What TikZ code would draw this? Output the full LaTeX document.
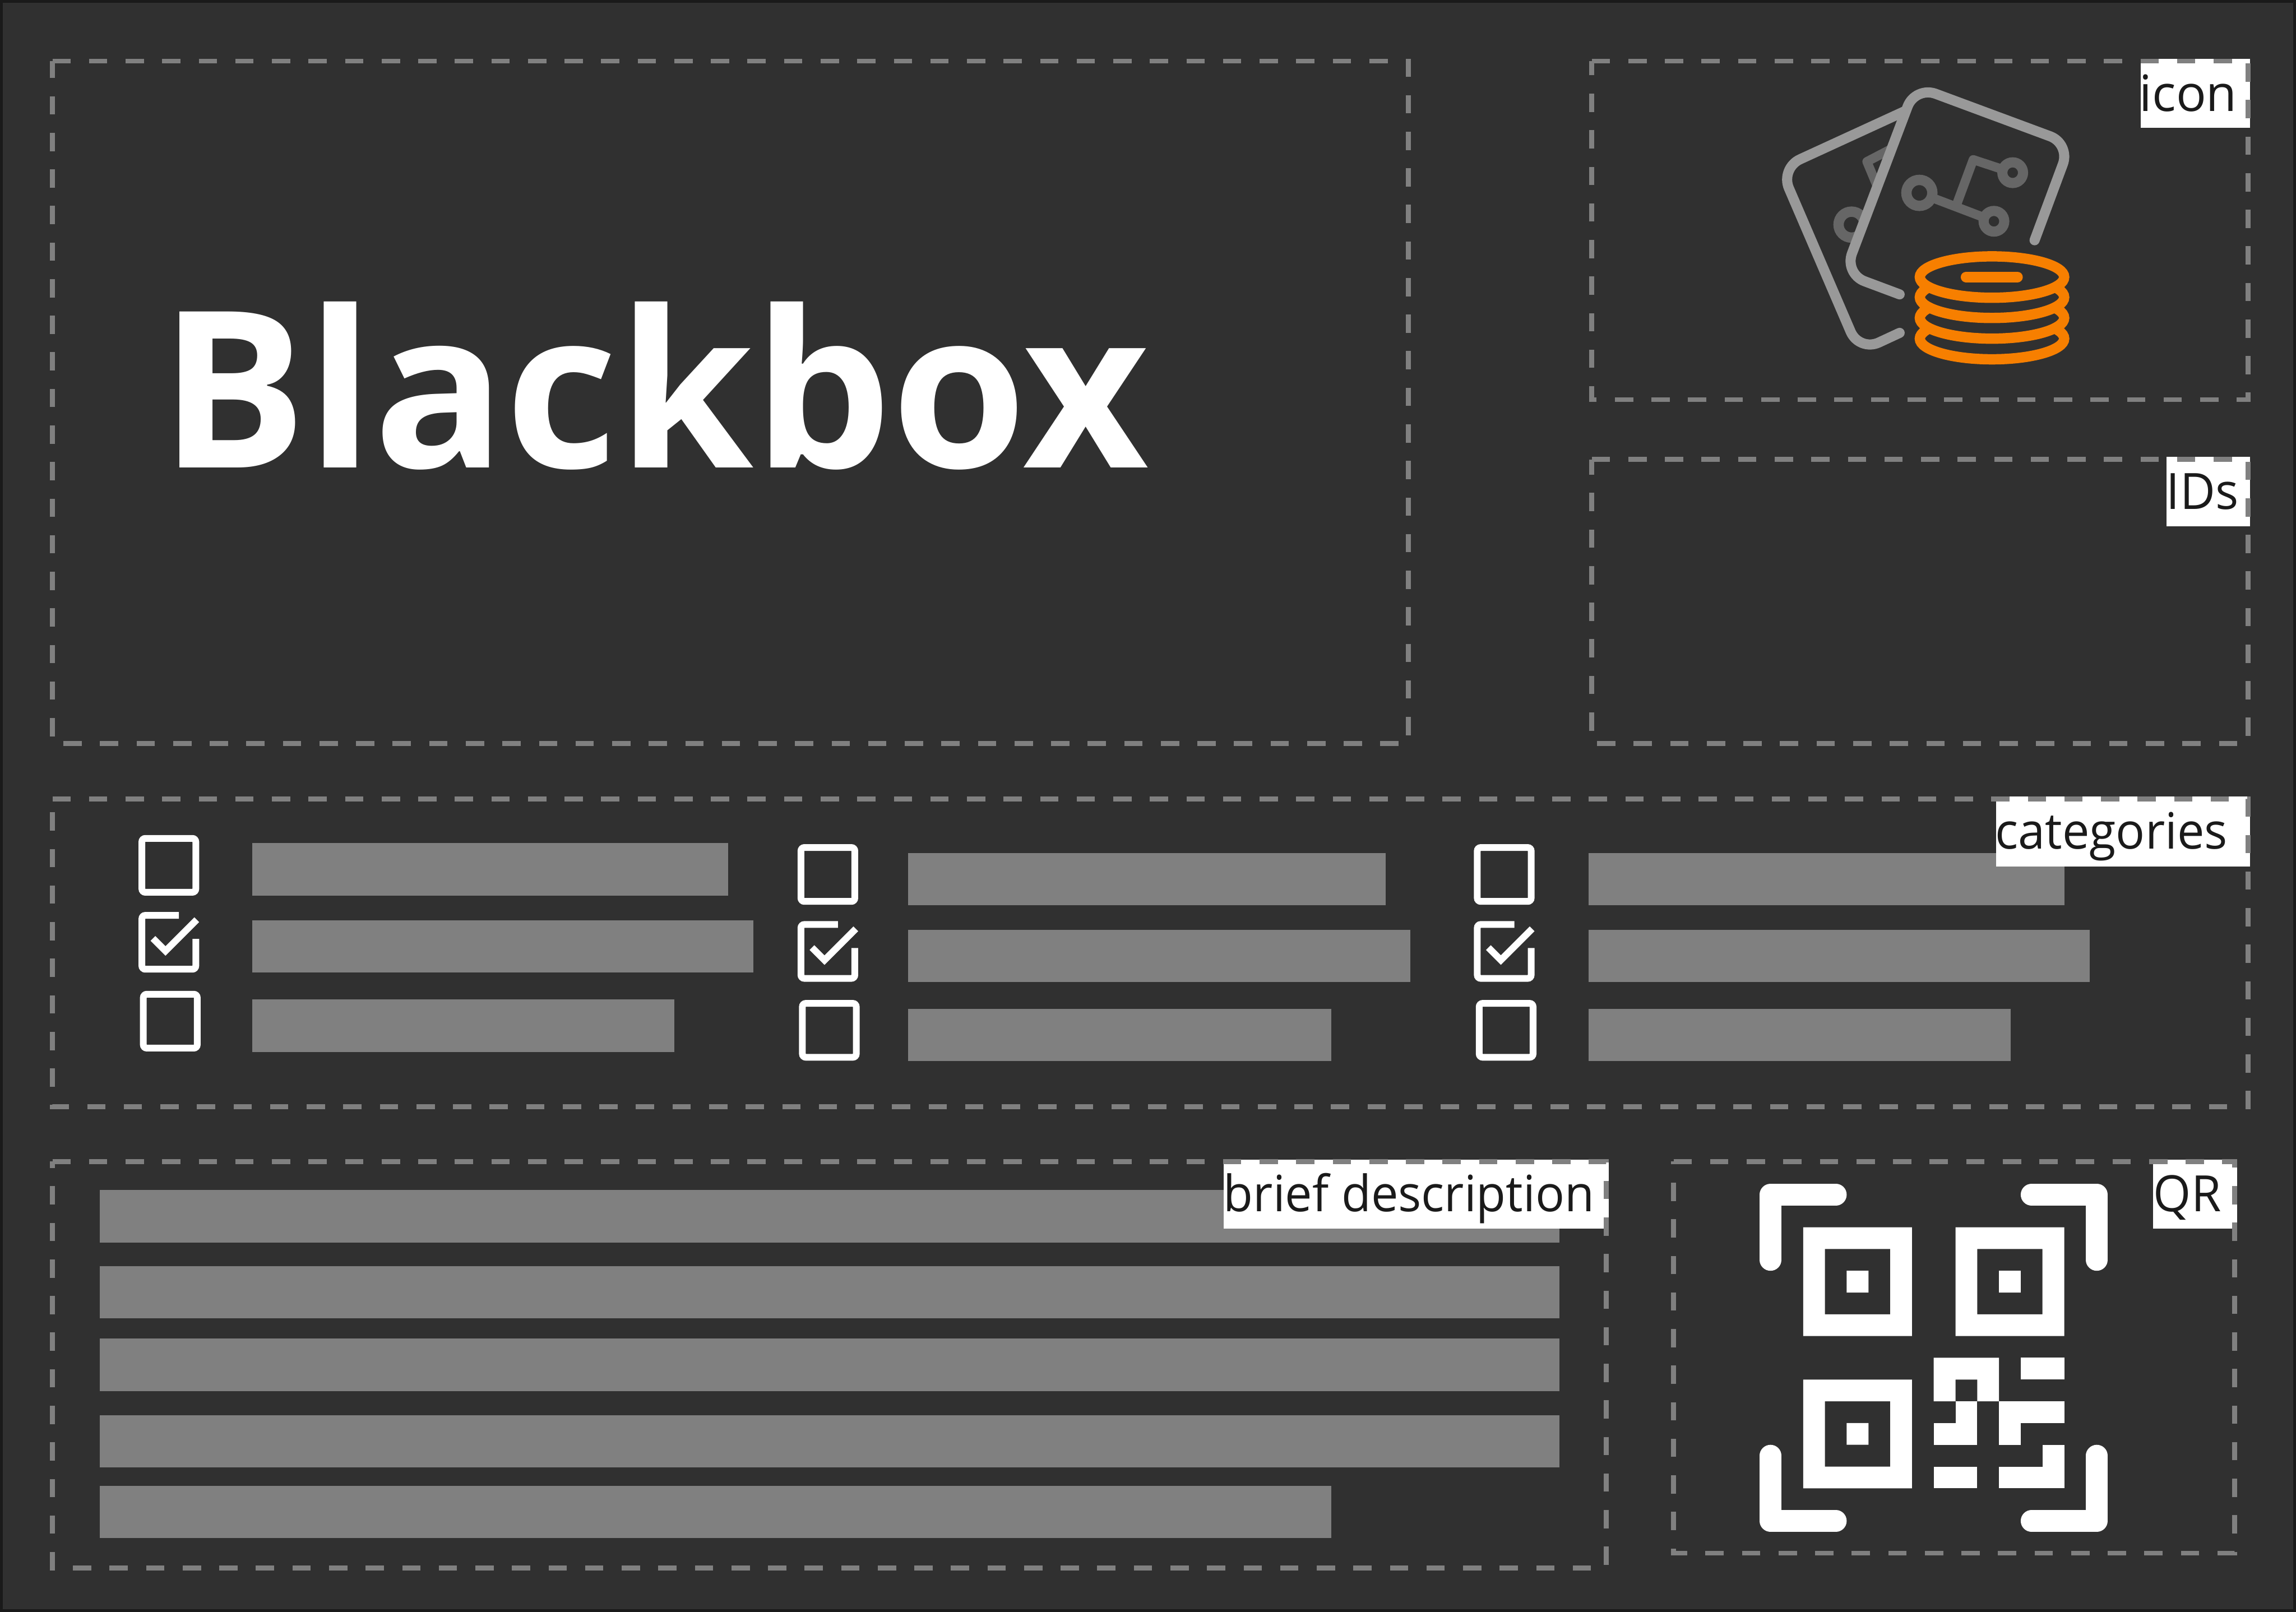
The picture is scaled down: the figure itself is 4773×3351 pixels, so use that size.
\documentclass[tikz,border=0pt]{standalone}
\usepackage{fontspec}
\setmainfont{Open Sans}
\newfontfamily\tagfont[FakeStretch=0.967]{Open Sans}
\definecolor{bgc}{HTML}{303030}
\definecolor{edgec}{HTML}{1A1A1A}
\definecolor{dashc}{HTML}{808080}
\definecolor{cardc}{HTML}{999999}
\definecolor{circc}{HTML}{666666}
\definecolor{coinc}{HTML}{F77F00}
\tikzset{
  zone/.style={draw=dashc,line width=0.1cm,dash pattern=on 0.38cm off 0.38cm},
  bar/.style={fill=dashc},
  tagbox/.style={fill=white},
  tag/.style={anchor=base west,inner sep=0pt,text=edgec,font=\tagfont\fontsize{29.6pt}{32pt}\selectfont},
  tagwide/.style={anchor=base west,inner sep=0pt,text=edgec,font=\fontsize{29.6pt}{32pt}\selectfont},
  tick/.style={draw=white,line width=0.14cm,rounded corners=0.07cm},
  cardline/.style={draw=cardc,line width=0.21cm,line cap=round,line join=round,rounded corners=0.45cm},
  circline/.style={draw=circc,line width=0.19cm,line join=round,line cap=round},
  ringbig/.style={draw=circc,line width=0.215cm},
  coin/.style={draw=coinc,fill=bgc,line width=0.215cm},
  qrmod/.style={fill=white},
  qrcorner/.style={draw=white,line width=0.452cm,line cap=round,line join=round},
}
\newcommand{\emptybox}[2]{\draw[tick] (#1+7,#2+7) -- (#1+119,#2+7) -- (#1+119,#2+119) -- (#1+7,#2+119) -- cycle;}
\newcommand{\fullbox}[2]{%
  \draw[tick] (#1+84,#2+7) -- (#1+7,#2+7) -- (#1+7,#2+119) -- (#1+119,#2+119) -- (#1+119,#2+56);
  \draw[draw=white,line width=0.14cm] (#1+30,#2+55) -- (#1+56,#2+81) -- (#1+121,#2+16);}
\begin{document}
\begin{tikzpicture}[x=0.01cm,y=-0.01cm]
\useasboundingbox (0,0) rectangle (4773,3351);
\fill[edgec] (0,0) rectangle (4773,3351);
\fill[bgc] (6,6) rectangle (4767,3345);
% bars
\foreach \a/\b/\c/\d in {
 524/1753/1514/1862, 524/1913/1566/2022, 524/2078/1402/2187,
 1888/1773/2880/1882, 1888/1933/2932/2042, 1888/2097/2767/2206,
 3302/1773/4292/1882, 3302/1933/4344/2042, 3302/2097/4180/2206,
 207/2474/3242/2583, 207/2632/3242/2741, 207/2783/3242/2892,
 207/2942/3242/3051, 207/3089/2767/3198}
  {\fill[bar] (\a,\b) rectangle (\c,\d);}
% label backgrounds
\fill[tagbox] (4450,122) rectangle (4677,266);
\fill[tagbox] (4504,950) rectangle (4677,1094);
\fill[tagbox] (4149,1656) rectangle (4677,1801);
\fill[tagbox] (2544,2411) rectangle (3344,2554);
\fill[tagbox] (4476,2411) rectangle (4650,2554);
% zones
\draw[zone] (109,127) -- (2928,127) -- (2928,1546) -- (109,1546) -- cycle;
\draw[zone] (3309,127) -- (4673,127) -- (4673,831) -- (3309,831) -- cycle;
\draw[zone] (3309,955) -- (4673,955) -- (4673,1546) -- (3309,1546) -- cycle;
\draw[zone] (109,1661) -- (4673,1661) -- (4673,2301) -- (109,2301) -- cycle;
\draw[zone] (109,2415) -- (3339,2415) -- (3339,3260) -- (109,3260) -- cycle;
\draw[zone] (3479,2415) -- (4645,2415) -- (4645,3229) -- (3479,3229) -- cycle;
% title and labels
\node[anchor=base west,inner sep=0pt,text=white,font=\fontsize{129.2pt}{140pt}\selectfont\bfseries] (title) at (332,972) {Blackbox};
\node[tagwide] (ticon) at (4447,231) {icon};
\node[tag] (tids) at (4503,1059) {IDs};
\node[tag] (tcat) at (4147,1765) {categories};
\node[tag] (tbrief) at (2543,2519) {brief description};
\node[tag] (tqr) at (4476,2519) {QR};
% checkboxes
\emptybox{288}{1736} \fullbox{288}{1896} \emptybox{291}{2060}
\emptybox{1658}{1755} \fullbox{1658}{1915} \emptybox{1661}{2079}
\emptybox{3064}{1755} \fullbox{3064}{1915} \emptybox{3068}{2079}
% back card circuit
\begin{scope}
\clip (3500,100) -- (4011,100) -- (3785,700) -- (3500,700) -- cycle;
\draw[ringbig] (3849,467) circle[radius=27];
\draw[circline] (3916,420) -- (3881,336) -- (3950,300);
\end{scope}
% back card
\draw[cardline] (3949,692) -- (3865,731) -- (3701,350) -- (3960,231);
% front card circuit
\draw[circline] (3990,401) -- (4145,460);
\draw[circline] (4069,421) -- (4102,332) -- (4184,359);
\draw[ringbig,fill=bgc] (3990,401) circle[radius=27];
\draw[draw=circc,fill=bgc,line width=0.21cm] (4184,359) circle[radius=21.5];
\draw[draw=circc,fill=bgc,line width=0.21cm] (4145,460) circle[radius=21.5];
% front card
\draw[cardline] (4229.5,499.5) -- (4304,299) -- (3981.5,179.3) -- (3834,569) -- (3949,612);
% coins
\draw[coin] (4141,704) ellipse[x radius=150,y radius=43];
\draw[coin] (4141,661) ellipse[x radius=150,y radius=43];
\draw[coin] (4141,618) ellipse[x radius=150,y radius=43];
\draw[coin] (4141,576) ellipse[x radius=150,y radius=43];
\draw[draw=coinc,line width=0.22cm,line cap=round] (4087,576) -- (4194,576);
% QR
\begin{scope}[shift={(3658,2461)},x=0.452cm,y=-0.452cm]
\fill[qrmod,even odd rule] (2,2) rectangle (7,7) (3,3) rectangle (6,6) (4,4) rectangle (5,5);
\fill[qrmod,even odd rule] (9,2) rectangle (14,7) (10,3) rectangle (13,6) (11,4) rectangle (12,5);
\fill[qrmod,even odd rule] (2,9) rectangle (7,14) (3,10) rectangle (6,13) (4,11) rectangle (5,12);
\fill[qrmod,even odd rule] (8,8) rectangle (11,10) (9,9) rectangle (10,10);
\fill[qrmod] (12,8) rectangle (14,9);
\fill[qrmod] (9,10) rectangle (10,11);
\fill[qrmod] (8,11) rectangle (10,12);
\fill[qrmod] (11,10) rectangle (14,11);
\fill[qrmod] (11,11) rectangle (12,12);
\fill[qrmod] (13,12) rectangle (14,13);
\fill[qrmod] (11,13) rectangle (14,14);
\fill[qrmod] (8,13) rectangle (10,14);
\draw[qrcorner] (0.5,3.5) -- (0.5,0.5) -- (3.5,0.5);
\draw[qrcorner] (12.5,0.5) -- (15.5,0.5) -- (15.5,3.5);
\draw[qrcorner] (0.5,12.5) -- (0.5,15.5) -- (3.5,15.5);
\draw[qrcorner] (12.5,15.5) -- (15.5,15.5) -- (15.5,12.5);
\end{scope}
\end{tikzpicture}
\end{document}
